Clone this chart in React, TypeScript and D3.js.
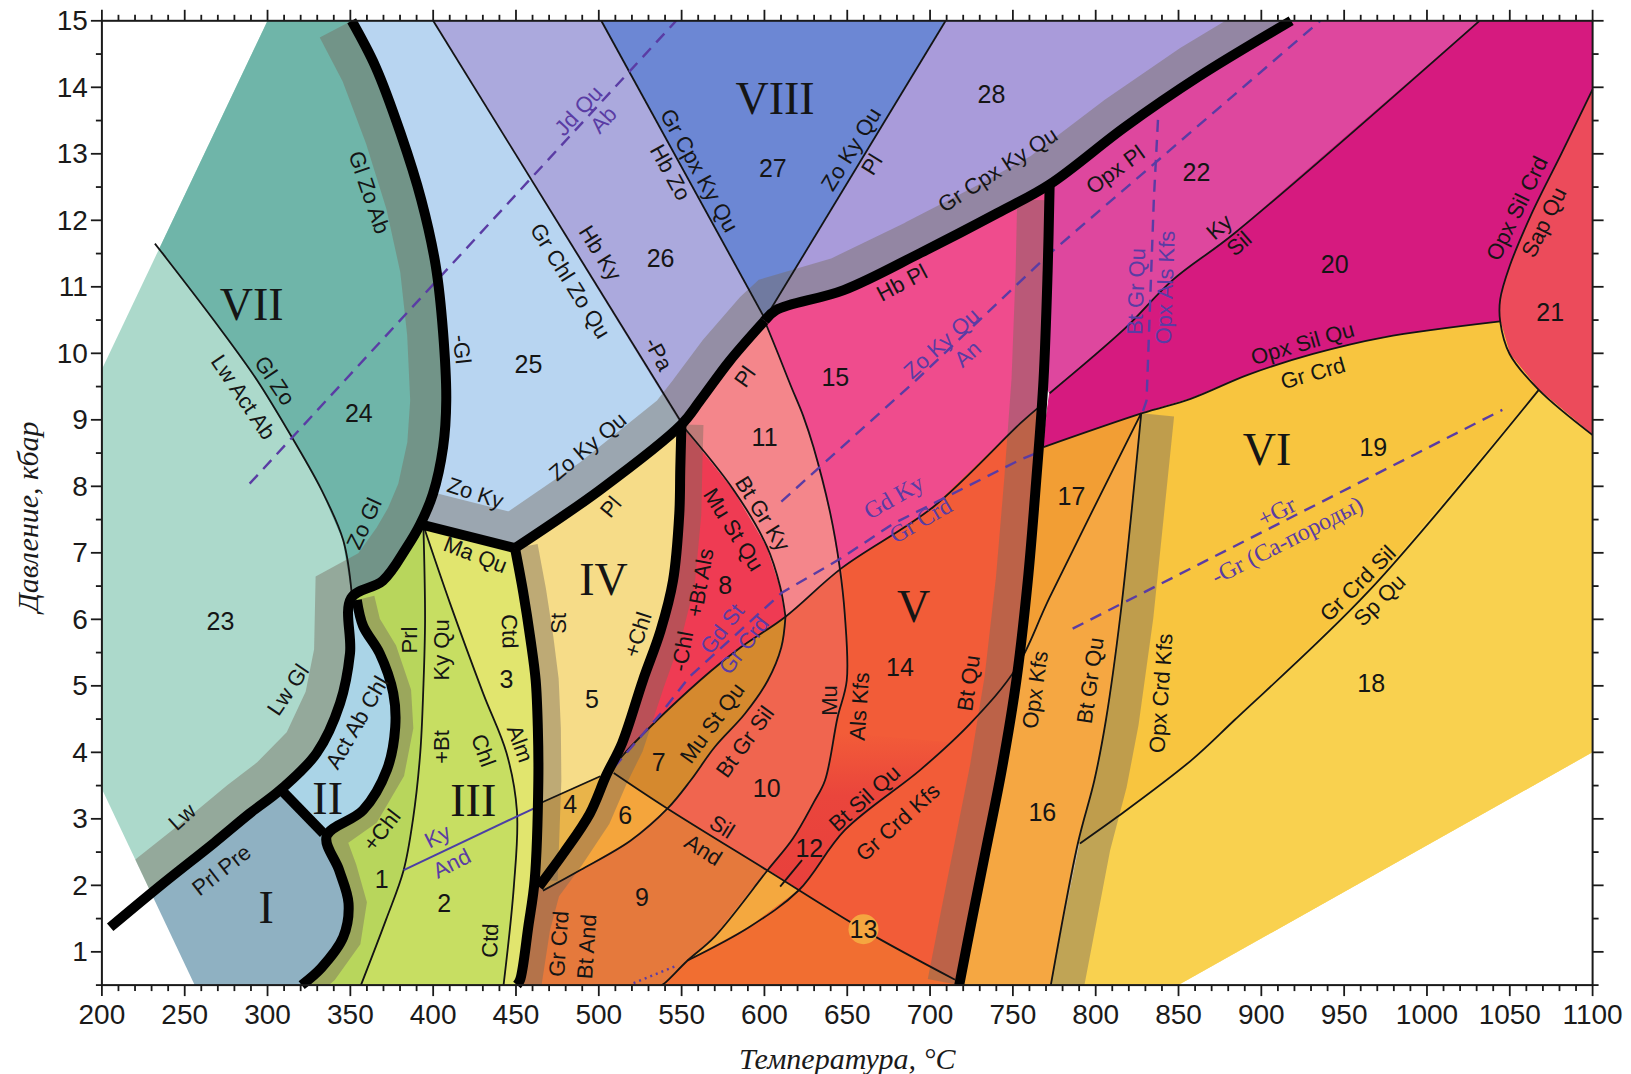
import React from "react";
import * as d3 from "d3";

type Pt = [number, number];

// ---------------- axes ----------------
const T_DOMAIN: Pt = [200, 1100];
const P_DOMAIN: Pt = [0.5, 15];
const X_MAJOR = d3.range(200, 1101, 50);
const X_MINOR = d3.range(200, 1101, 10);
const Y_MAJOR = d3.range(1, 16, 1);
const Y_MINOR = d3.range(0.5, 15.01, 0.5);

// ---------------- outline of the coloured field (T °C, P kbar) ----------------
const ENVELOPE: Pt[] = [[300, 15], [200, 9.76], [200, 3.45], [256, 0.5], [850, 0.5], [1100, 4.0], [1100, 15]];

// ---------------- thick boundaries ----------------
const TH_VII: Pt[] = [[350.8, 15], [365.2, 14.31], [380.3, 13.31], [392.8, 12.31], [401.6, 11.31], [406, 10.31], [407.9, 9.29], [406, 8.59], [399.8, 7.88], [392.2, 7.43]];
const TH_JCT: Pt[] = [[392.2, 7.43], [384, 7.08], [369.6, 6.58], [350.5, 6.32]];
const TH_LOWER: Pt[] = [[350.5, 6.32], [349.8, 5.49], [343.8, 4.74], [329.7, 3.99], [308, 3.44], [289.2, 3.08], [267.8, 2.64], [235.5, 2.0], [205, 1.37]];
const TH_I_II: Pt[] = [[308, 3.44], [333.8, 2.78]];
const TH_II_III: Pt[] = [[353.9, 6.29], [357.7, 5.9], [367.7, 5.49], [375.9, 4.89], [377.1, 4.38], [372.1, 3.74], [357.7, 3.13], [335.7, 2.74]];
const TH_I_III: Pt[] = [[335.7, 2.74], [343.2, 2.23], [348.9, 1.73], [345.7, 1.22], [332.5, 0.76], [320.6, 0.5]];
const TH_MAQU: Pt[] = [[392.2, 7.43], [449.4, 7.07]];
const TH_III_IV: Pt[] = [[449.4, 7.07], [454.4, 6.4], [458.8, 5.69], [461.9, 5.08], [463.2, 4.36], [463.5, 3.58], [461.3, 2.08], [457.5, 1.39], [452.5, 0.58], [450.6, 0.5]];
const TH_IV_TOP: Pt[] = [[449.4, 7.07], [500.9, 7.95], [549.9, 8.93], [561.2, 9.29], [578.8, 9.88], [600.1, 10.49]];
const TH_IV_8: Pt[] = [[549.9, 8.93], [549.2, 8.27], [548.6, 7.59], [544.8, 6.58], [537.3, 5.83], [526.6, 5.08], [514.1, 4.14], [504.6, 3.66], [494.6, 3.08], [478.9, 2.49], [463.8, 1.98]];
const TH_TOP_R: Pt[] = [[600.1, 10.49], [607, 10.65], [647.9, 10.95], [694.3, 11.51], [740.8, 12.11], [772.2, 12.54], [817.5, 13.4], [862.1, 14.16], [918, 15]];
const TH_VERT: Pt[] = [[772.2, 12.54], [771, 11.25], [768.5, 9.6], [764.1, 8.09], [759, 6.58], [752.1, 5.08], [743.3, 3.74], [733.9, 2.56], [725.8, 1.55], [717.6, 0.5]];

// ---------------- thin boundaries ----------------
const L_VII: Pt[] = [[232, 11.65], [236.4, 11.51], [267.8, 10.49], [293.6, 9.6], [315.6, 8.7], [332.5, 7.95], [345.7, 7.19], [350.8, 6.4]];
const L_25_26: Pt[] = [[400, 15], [549.9, 8.96]];
const L_26_27: Pt[] = [[501.5, 15], [600.3, 10.52]];
const L_27_28: Pt[] = [[709.4, 15], [600.3, 10.52]];
const L_MU: Pt[] = [[600.1, 10.49], [608.3, 9.99], [615.8, 9.52], [623.4, 9.06], [629.6, 8.59], [639.7, 7.6], [645.4, 6.79], [648.5, 6.08], [649.7, 5.08], [644.1, 4.52], [636.6, 3.58], [629.6, 3.24], [617.1, 2.7], [602.0, 2.23], [570.0, 1.23], [553.6, 0.87], [539.8, 0.53], [537.9, 0.5]];
const L_BTGRKY: Pt[] = [[549.9, 8.93], [581.3, 7.95], [601.4, 7.1], [609.5, 6.49], [612.7, 6.04]];
const L_GDKY: Pt[] = [[507.8, 3.74], [514.7, 3.96], [540.5, 4.61], [567.5, 5.22], [585.7, 5.58], [612.7, 6.04], [646.6, 6.77], [701.9, 7.69], [754.6, 8.95], [766.6, 9.21]];
const L_MUSTQU: Pt[] = [[612.7, 6.04], [610.2, 5.58], [602.0, 5.08], [588.2, 4.58], [570.0, 4.08], [555.5, 3.58], [541.7, 3.16], [519.1, 2.67], [488.9, 2.23], [466.3, 1.92]];
const L_SILAND: Pt[] = [[509.0, 3.69], [541.1, 3.16], [601.4, 2.23], [659.8, 1.33], [715.1, 0.58]];
const L_KYAND_IV: Pt[] = [[463.2, 3.22], [500.9, 3.64]];
const L_KYAND_III: Pt[] = [[382.2, 2.23], [461.9, 3.17]];
const L_BTSILQU: Pt[] = [[827.5, 9.1], [772.2, 6.33], [752.1, 5.27], [724.5, 4.44], [694.3, 3.74], [648.5, 2.83], [620.9, 1.93], [590.7, 1.37], [553.6, 0.87]];
const L_KYSIL: Pt[] = [[1031.7, 15], [884.0, 11.81], [846.4, 11.1], [817.5, 10.37], [772.2, 9.4]];
const L_OPXSILQU: Pt[] = [[768.5, 8.59], [828.1, 9.1], [857.7, 9.32], [892.2, 9.68], [931.2, 9.99], [973.9, 10.24], [1044.2, 10.48]];
const L_21: Pt[] = [[1100, 13.97], [1081.3, 13.01], [1063.4, 12.11], [1049.9, 11.31], [1044.2, 10.81], [1044.2, 10.48], [1049.9, 9.99], [1067.5, 9.45], [1100, 8.77]];
const L_SPQU: Pt[] = [[1067.5, 9.45], [965.1, 6.43], [884.0, 4.49], [857.7, 3.88], [813.1, 3.03], [790.5, 2.63]];
const L_BTGRQU: Pt[] = [[827.5, 9.1], [815.0, 6.08], [806.2, 4.49], [799.2, 3.58], [789.2, 2.63], [772.9, 0.5]];
const L_CHL: Pt[] = [[394.1, 7.41], [395.1, 5.99], [394.1, 4.99], [392.2, 3.99], [387.8, 2.99], [382.2, 2.23], [371.5, 1.48], [356.4, 0.5]];
const L_ALM: Pt[] = [[394.1, 7.41], [410.2, 6.24], [430.3, 4.88], [444.3, 3.99], [450.6, 3.11], [448.7, 1.98], [442.5, 0.5]];
const L_TICK12: Pt[] = [[622.7, 2.38], [609.5, 1.98]];

// ---------------- dashed reaction lines ----------------
const D_JDQU: Pt[] = [[289.2, 8.04], [546.7, 15]];
const D_ZOKYQU: Pt[] = [[610.2, 7.77], [691.8, 9.6], [772.2, 11.5], [935.6, 15]];
const D_VERT: Pt[] = [[837.6, 13.51], [835.1, 12.31], [830.7, 9.29], [828.1, 9.1]];
const D_GDKY: Pt[] = [[509.0, 3.77], [537.3, 4.58], [554.9, 5.14], [610.5, 6.4], [645.7, 6.91], [677.9, 7.44], [754.4, 8.4], [765.3, 8.51]];
const D_CA: Pt[] = [[786.1, 5.86], [1045.5, 9.15]];
const D_DOT: Pt[] = [[521.0, 0.53], [546.7, 0.79]];

// ---------------- explicit small fields ----------------
const R4: Pt[] = [[463.2, 3.22], [500.9, 3.64], [504.6, 3.66], [494.6, 3.08], [478.9, 2.49], [463.8, 1.98], [461.3, 2.08], [463.5, 3.58]];
const R12: Pt[] = [[643, 4.3], [636.6, 3.58], [629.6, 3.24], [617.1, 2.7], [602.0, 2.23], [620.9, 1.93], [648.5, 2.83], [694.3, 3.74], [712, 4.15]];
const R9: Pt[] = [[463.8, 1.98], [466.3, 1.92], [488.9, 2.23], [519.1, 2.67], [541.7, 3.16], [601.4, 2.23], [570.0, 1.23], [553.6, 0.87], [539.8, 0.53], [537.9, 0.5], [450.6, 0.5], [452.5, 0.58], [457.5, 1.39], [461.3, 2.08]];
const RSLIVER: Pt[] = [[602.0, 2.23], [620.9, 1.93], [590.7, 1.37], [553.6, 0.87], [570.0, 1.23]];
const R13: Pt[] = [[620.9, 1.93], [659.8, 1.33], [715.1, 0.58], [717.6, 0.5], [537.9, 0.5], [539.8, 0.53], [553.6, 0.87], [590.7, 1.37]];
const R17: Pt[] = [[768.5, 8.59], [828.1, 9.1], [772.2, 6.33], [752.1, 5.27], [759, 6.58], [764.1, 8.09]];

// ---------------- labels ----------------
const ROMAN: [string, number, number][] = [["VII", 290.4, 10.73], ["VIII", 606.4, 13.83], ["I", 299.2, 1.67], ["II", 336.3, 3.31], ["III", 424.2, 3.27], ["IV", 502.8, 6.6], ["V", 690.0, 6.19], ["VI", 903.5, 8.56]];
const FIELD_NUMS: [string, number, number][] = [
  ["23", 271.6, 5.97], ["24", 355.1, 9.1], ["25", 457.5, 9.84], ["26", 537.3, 11.43], ["27", 605.1, 12.78], ["28", 737.1, 13.9],
  ["22", 860.8, 12.73], ["20", 944.3, 11.34], ["21", 1074.4, 10.62], ["19", 967.6, 8.59], ["18", 966.3, 5.05], ["17", 785.4, 7.85],
  ["16", 767.8, 3.11], ["15", 642.8, 9.65], ["11", 600.1, 8.74], ["8", 576.3, 6.52], ["14", 681.8, 5.29], ["10", 601.4, 3.47],
  ["12", 627.1, 2.56], ["13", 659.8, 1.34], ["9", 526.0, 1.83], ["7", 536.1, 3.85], ["6", 516.0, 3.06], ["4", 482.7, 3.22],
  ["5", 495.9, 4.8], ["3", 444.3, 5.11], ["1", 369.0, 2.09], ["2", 406.7, 1.73],
];
const CIRCLED: [number, number][] = [[659.8, 1.34]];
// text, T, P, rotation, kind (k = black sans, p = purple sans, s = purple serif)
const LINE_LABELS: [string, number, number, number, string][] = [
  ["Gl Zo Ab", 361.4, 12.42, 71, "k"], ["Gl Zo", 304.3, 9.59, 56, "k"], ["Lw Act Ab", 285.4, 9.34, 56, "k"],
  ["Zo Gl", 358.3, 7.44, -65, "k"], ["-Gl", 417.3, 10.06, 84, "k"], ["Zo Ky", 425.5, 7.9, 18, "k"],
  ["Zo Ky Qu", 493.3, 8.6, -40, "k"], ["Pl", 507.2, 7.69, -50, "k"], ["-Pa", 536.1, 9.99, 62, "k"],
  ["Pl", 588.2, 9.65, -55, "k"], ["Gr Chl Zo Qu", 482.7, 11.09, 58, "k"], ["Hb Ky", 500.9, 11.51, 58, "k"],
  ["Gr Cpx Ky Qu", 560.6, 12.75, 61, "k"], ["Hb Zo", 543.2, 12.72, 61, "k"], ["Jd Qu", 487.7, 13.65, -47, "p"],
  ["Ab", 502.8, 13.51, -47, "p"], ["Zo Ky Qu", 652.3, 13.07, -58, "k"], ["Pl", 664.8, 12.84, -58, "k"],
  ["Gr Cpx Ky Qu", 740.8, 12.76, -33, "k"], ["Hb Pl", 683.0, 11.06, -28, "k"], ["Zo Ky Qu", 706.9, 10.15, -42, "p"],
  ["An", 722.6, 9.99, -42, "p"], ["Opx Pl", 811.8, 12.76, -36, "k"], ["Ky", 874.6, 11.9, -41, "k"],
  ["Sil", 886.6, 11.65, -41, "k"], ["Bt Gr Qu", 824.4, 10.93, -88, "p"], ["Opx Als Kfs", 842.0, 10.99, -88, "p"],
  ["Opx Sil Qu", 924.9, 10.15, -16, "k"], ["Gr Crd", 931.2, 9.7, -16, "k"], ["Opx Sil Crd", 1054.3, 12.18, -64, "k"],
  ["Sap Qu", 1070.6, 11.97, -64, "k"], ["+Gr", 909.2, 7.62, -27, "s"], ["-Gr (Ca-породы)", 915.5, 7.19, -27, "s"],
  ["Gr Crd Sil", 958.2, 6.54, -45, "k"], ["Sp Qu", 971.4, 6.29, -45, "k"], ["Opx Crd Kfs", 839.4, 4.89, -86, "k"],
  ["Bt Gr Qu", 796.7, 5.08, -82, "k"], ["Opx Kfs", 763.4, 4.94, -82, "k"], ["Bt Qu", 723.2, 5.04, -82, "k"],
  ["Mu", 639.1, 4.78, -90, "k"], ["Als Kfs", 657.3, 4.69, -86, "k"], ["Bt Sil Qu", 660.4, 3.31, -42, "k"],
  ["Gr Crd Kfs", 680.5, 2.95, -42, "k"], ["Sil", 574.4, 2.88, 32, "k"], ["And", 563.1, 2.53, 32, "k"],
  ["Mu St Qu", 568.5, 4.44, -54, "k"], ["Bt Gr Sil", 588.2, 4.16, -54, "k"], ["Gr Crd", 475.8, 1.12, -86, "k"],
  ["Bt And", 492.7, 1.08, -86, "k"], ["-Chl", 550.5, 5.52, -80, "k"], ["+Bt Als", 561.2, 6.55, -80, "k"],
  ["Gd St", 574.4, 5.86, -52, "p"], ["Gr Crd", 587.6, 5.61, -52, "p"], ["Mu St Qu", 581.3, 7.35, 58, "k"],
  ["Bt Gr Ky", 598.9, 7.59, 58, "k"], ["Gd Ky", 678.0, 7.84, -30, "s"], ["Gr Crd", 694.3, 7.49, -30, "s"],
  ["St", 475.8, 5.94, -90, "k"], ["+Chl", 523.5, 5.77, -72, "k"], ["Ma Qu", 425.5, 6.97, 21, "k"],
  ["Ctd", 446.2, 5.82, 88, "k"], ["Prl", 385.9, 5.69, -90, "k"], ["Ky Qu", 405.1, 5.54, -90, "k"],
  ["+Bt", 405.1, 4.08, -90, "k"], ["Chl", 430.3, 4.03, 70, "k"], ["Alm", 452.5, 4.13, 70, "k"],
  ["Ctd", 434.3, 1.17, -88, "k"], ["+Chl", 369.0, 2.83, -52, "k"], ["Ky", 402.6, 2.74, -27, "p"],
  ["And", 411.2, 2.33, -27, "p"], ["Act Ab Chl", 354.0, 4.45, -60, "k"], ["Lw Gl", 312.4, 4.94, -56, "k"],
  ["Lw", 248.4, 3.03, -42, "k"], ["Prl Pre", 272.2, 2.23, -38, "k"],
];

const rev = (a: Pt[]): Pt[] => a.slice().reverse();

// fields built from the boundary arrays (painted in this order)
const FIELDS: [string, Pt[]][] = [
  ["f23", [[200, 15], ...TH_VII, ...TH_JCT, ...TH_LOWER, [200, 1.37]]],
  ["f24", [[200, 15], ...TH_VII, ...TH_JCT, ...rev(L_VII), [200, 11.65]]],
  ["fI", [...TH_LOWER.slice(4), [200, 1.37], [200, 0.5], ...rev(TH_I_III), [333.8, 2.78]]],
  ["fII", [...TH_LOWER.slice(0, 5), [333.8, 2.78], ...rev(TH_II_III)]],
  ["f3", [[392.2, 7.43], ...TH_III_IV, ...rev(TH_I_III), ...rev(TH_II_III), ...rev(TH_JCT)]],
  ["f2", [[392.2, 7.43], ...L_ALM, ...rev(TH_I_III), ...rev(TH_II_III), ...rev(TH_JCT)]],
  ["f1", [[392.2, 7.43], ...L_CHL, ...rev(TH_I_III), ...rev(TH_II_III), ...rev(TH_JCT)]],
  ["f25", [...L_25_26, [500.9, 7.95], [449.4, 7.07], ...rev(TH_VII)]],
  ["f26", [[400, 15], [501.5, 15], [600.3, 10.52], [578.8, 9.88], [561.2, 9.29], [549.9, 8.93]]],
  ["f27", [[501.5, 15], [709.4, 15], [600.3, 10.52]]],
  ["f28", [[709.4, 15], [918, 15], ...rev(TH_TOP_R)]],
  ["fIV", [...TH_IV_TOP.slice(0, 3), ...TH_IV_8.slice(1), ...rev(TH_III_IV.slice(0, 7))]],
  ["f4", R4],
  ["f8", [...L_BTGRKY, ...rev(L_GDKY.slice(0, 6)), ...rev(TH_IV_8.slice(0, 8))]],
  ["f11", [...TH_IV_TOP.slice(2), ...L_MU.slice(1, 7), [646.6, 6.77], ...rev(L_BTGRKY)]],
  ["f15", [...TH_TOP_R, ...TH_VERT.slice(1, 3), ...rev(L_GDKY.slice(6)), ...rev(L_MU.slice(0, 7))]],
  ["fV", [...L_GDKY.slice(6), ...TH_VERT.slice(2), ...rev(L_SILAND.slice(2)), ...rev(L_MU.slice(7, 13))]],
  ["f10", [[612.7, 6.04], [646.6, 6.77], ...L_MU.slice(7, 14), [541.1, 3.16], ...rev(L_MUSTQU.slice(0, 7))]],
  ["f7", [...L_MUSTQU.slice(0, 7), [509.0, 3.69], ...L_GDKY.slice(0, 6)]],
  ["f6", [[509.0, 3.69], [541.1, 3.16], ...L_MUSTQU.slice(7), [463.8, 1.98], [478.9, 2.49], [494.6, 3.08], [504.6, 3.66]]],
  ["f12", R12],
  ["f9", R9],
  ["fsl", RSLIVER],
  ["f13", R13],
  ["f22", [[918, 15], ...L_KYSIL, [768.5, 9.6], [771, 11.25], [772.2, 12.54], [817.5, 13.4], [862.1, 14.16]]],
  ["f20", [[1031.7, 15], [1100, 15], ...L_21.slice(0, 6), ...rev(L_OPXSILQU), [770, 9.0], ...rev(L_KYSIL.slice(1))]],
  ["f21", L_21],
  ["f19", [...L_OPXSILQU.slice(1), ...L_21.slice(6, 8), ...L_SPQU.slice(1), ...rev(L_BTGRQU.slice(0, 5))]],
  ["f18", [[1067.5, 9.45], [1100, 8.77], [1100, 4.0], [850, 0.5], [772.9, 0.5], ...rev(L_SPQU)]],
  ["f17", R17],
  ["f16", [[827.5, 9.1], ...L_BTGRQU.slice(1), ...rev(TH_VERT.slice(5)), [752.1, 5.27], [772.2, 6.33]]],
];

const BANDS: [string, Pt[]][] = [
  ["bVII", [...TH_VII, ...TH_JCT, ...TH_LOWER]],
  ["bTop", [...TH_MAQU, ...TH_IV_TOP, ...TH_TOP_R]],
  ["bSt", TH_III_IV.slice(0, 7)],
  ["b8", [...TH_IV_8, ...TH_III_IV.slice(7)]],
  ["bBtQu", [[771.9, 12.3], ...TH_VERT.slice(1)]],
  ["bOpx", L_BTGRQU],
  ["bII", [...TH_II_III, ...TH_I_III]],
];

// ---------------- styles ----------------
const FIELD_COLOR: Record<string, string> = {
  f23: "#acd9cb", f24: "#6fb5a9", fI: "#8fb1c2", fII: "#aad4e7", f3: "#e1e56e", f2: "#c7de62", f1: "#b8d65c",
  f25: "#b8d5f1", f26: "#aba9dd", f27: "#6c87d4", f28: "#a99bda", fIV: "#f6dc88", f4: "#e9b44a", f8: "#ef3b53",
  f11: "#f4868b", f15: "#ef4c8d", fV: "#f25c38", f10: "#f0654f", f7: "#d5892e", f6: "#f4a53c", f12: "url(#g12)",
  f9: "#e5793c", fsl: "#f4a83f", f13: "#f16e31", f22: "#de479e", f20: "#d61a7f", f21: "#ec4b5b", f19: "#f8c53f",
  f18: "#f9d14f", f17: "#f29e34", f16: "#f5a742",
};
const BAND_STYLE: Record<string, [number, number]> = {
  // [signed offset, width] in px
  bVII: [18, 36], bTop: [-17, 34], bSt: [-11.5, 23], b8: [-11, 22], bBtQu: [16, 32], bOpx: [-16.5, 33], bII: [-9, 18],
};
const BAND_FILL = "rgba(118,106,94,0.44)";
const PURPLE = "#5a3ca4";
const SANS = "'Liberation Sans', Arial, Helvetica, sans-serif";
const SERIF = "'Liberation Serif', 'Times New Roman', serif";

function dedupe(p: Pt[]): Pt[] {
  return p.filter((q, i) => i === 0 || Math.abs(q[0] - p[i - 1][0]) > 0.05 || Math.abs(q[1] - p[i - 1][1]) > 0.05);
}

function offsetPx(P: Pt[], d: number): Pt[] {
  const n = P.length;
  const segN: Pt[] = [];
  for (let i = 0; i < n - 1; i++) {
    const dx = P[i + 1][0] - P[i][0], dy = P[i + 1][1] - P[i][1];
    const L = Math.hypot(dx, dy) || 1;
    segN.push([-dy / L, dx / L]);
  }
  return P.map((p, i) => {
    const a = segN[Math.max(0, i - 1)], b = segN[Math.min(n - 2, i)];
    let mx = a[0] + b[0], my = a[1] + b[1];
    const ml = Math.hypot(mx, my) || 1;
    mx /= ml; my /= ml;
    const c = mx * b[0] + my * b[1];
    const k = d / Math.max(c, 0.5);
    return [p[0] + mx * k, p[1] + my * k] as Pt;
  });
}

export default function App() {
  const x = d3.scaleLinear().domain(T_DOMAIN).range([101.9, 1592.6]);
  const y = d3.scaleLinear().domain(P_DOMAIN).range([985.1, 20.8]);
  const toPx = (pts: Pt[]): Pt[] => dedupe(pts).map((p) => [x(p[0]), y(p[1])] as Pt);
  const gen = d3.line<Pt>();
  const smooth = d3.line<Pt>().curve(d3.curveCatmullRom.alpha(0.5));
  const path = (pts: Pt[]) => gen(toPx(pts)) || "";
  const spath = (pts: Pt[]) => smooth(toPx(pts)) || "";
  const closed = (pts: Pt[]) => path(pts) + "Z";

  const x0 = x(200), x1 = x(1100), yB = y(0.5), yT = y(15);

  const thick = [
    [...TH_VII, ...TH_JCT, ...TH_LOWER], TH_I_II, [...TH_II_III, ...TH_I_III], TH_MAQU, TH_III_IV,
    TH_IV_TOP, TH_IV_8, TH_TOP_R, TH_VERT,
  ];
  const thinSmooth = [L_VII, L_25_26, L_26_27, L_27_28, L_MU, L_BTGRKY, L_GDKY, L_MUSTQU, L_SILAND, L_KYAND_IV,
    L_BTSILQU, L_KYSIL, L_OPXSILQU, L_21, L_BTGRQU, L_CHL, L_ALM, L_TICK12, L_SPQU];
  const dashed = [D_JDQU, D_ZOKYQU, D_VERT, D_GDKY, D_CA];

  return (
    <svg width={1631} height={1074} viewBox="0 0 1631 1074" style={{ position: "absolute", left: 0, top: 0, background: "#fff" }}>
      <defs>
        <clipPath id="env">
          <path d={closed(ENVELOPE)} />
        </clipPath>
        <linearGradient id="g12" x1="0" y1="0" x2="0" y2="1">
          <stop offset="0" stopColor="#f25c38" />
          <stop offset="0.4" stopColor="#ea453c" />
          <stop offset="1" stopColor="#e8403c" />
        </linearGradient>
      </defs>
      <rect x={0} y={0} width={1631} height={1074} fill="#ffffff" />
      <g clipPath="url(#env)">
        {FIELDS.map(([id, pts]) => (
          <path key={id} d={closed(pts)} fill={FIELD_COLOR[id]} stroke={id === "f12" ? "none" : FIELD_COLOR[id]} strokeWidth={1} strokeLinejoin="round" />
        ))}
        {BANDS.map(([id, pts]) => {
          const [off, w] = BAND_STYLE[id];
          const p = offsetPx(toPx(pts), off);
          return <path key={id} d={gen(p) || ""} fill="none" stroke={BAND_FILL} strokeWidth={w} strokeLinejoin="miter" strokeMiterlimit={3} strokeLinecap="butt" />;
        })}
      </g>
      {thinSmooth.map((pts, i) => (
        <path key={"t" + i} d={spath(pts)} fill="none" stroke="#141414" strokeWidth={1.8} strokeLinejoin="round" />
      ))}
      <path d={path(L_KYAND_III)} fill="none" stroke="#4b3fa6" strokeWidth={2} />
      {dashed.map((pts, i) => (
        <path key={"d" + i} d={path(pts)} fill="none" stroke={PURPLE} strokeWidth={2.4} strokeDasharray="12 8" />
      ))}
      <path d={path(D_DOT)} fill="none" stroke={PURPLE} strokeWidth={2.4} strokeDasharray="2 4" />
      {thick.map((pts, i) => (
        <path key={"k" + i} d={spath(pts)} fill="none" stroke="#000" strokeWidth={10} strokeLinejoin="round" strokeLinecap="butt" />
      ))}
      {CIRCLED.map(([t, p], i) => (
        <circle key={"c" + i} cx={x(t)} cy={y(p)} r={15} fill="#f5a640" />
      ))}
      {ROMAN.map(([s, t, p], i) => (
        <text key={"r" + i} x={x(t)} y={y(p)} textAnchor="middle" dominantBaseline="central" fontFamily={SERIF} fontSize={46} fill="#151515">{s}</text>
      ))}
      {FIELD_NUMS.map(([s, t, p], i) => (
        <text key={"n" + i} x={x(t)} y={y(p)} textAnchor="middle" dominantBaseline="central" fontFamily={SANS} fontSize={25} fill="#151515">{s}</text>
      ))}
      {LINE_LABELS.map(([s, t, p, r, k], i) => (
        <text key={"l" + i} transform={`translate(${x(t)},${y(p)}) rotate(${r})`} textAnchor="middle" dominantBaseline="central"
          fontFamily={k === "s" ? SERIF : SANS} fontSize={k === "s" ? 24 : 22} fill={k === "k" ? "#151515" : PURPLE}>{s}</text>
      ))}
      {/* frame and ticks */}
      <rect x={x0} y={yT} width={x1 - x0} height={yB - yT} fill="none" stroke="#1a1a1a" strokeWidth={2} />
      {X_MINOR.map((v) => {
        const len = v % 50 === 0 ? 11 : 6;
        return (
          <g key={"xt" + v}>
            <line x1={x(v)} x2={x(v)} y1={yB} y2={yB + len} stroke="#1a1a1a" strokeWidth={1.8} />
            <line x1={x(v)} x2={x(v)} y1={yT} y2={yT - len} stroke="#1a1a1a" strokeWidth={1.8} />
          </g>
        );
      })}
      {Y_MINOR.map((v) => {
        const len = Math.abs(v - Math.round(v)) < 1e-6 ? 11 : 6;
        return (
          <g key={"yt" + v}>
            <line x1={x0} x2={x0 - len} y1={y(v)} y2={y(v)} stroke="#1a1a1a" strokeWidth={1.8} />
            <line x1={x1} x2={x1 + len} y1={y(v)} y2={y(v)} stroke="#1a1a1a" strokeWidth={1.8} />
          </g>
        );
      })}
      {X_MAJOR.map((v) => (
        <text key={"xl" + v} x={x(v)} y={yB + 29} textAnchor="middle" dominantBaseline="central" fontFamily={SANS} fontSize={28} fill="#1a1a1a">{v}</text>
      ))}
      {Y_MAJOR.map((v) => (
        <text key={"yl" + v} x={x0 - 14} y={y(v)} textAnchor="end" dominantBaseline="central" fontFamily={SANS} fontSize={28} fill="#1a1a1a">{v}</text>
      ))}
      <text x={(x0 + x1) / 2} y={1058} textAnchor="middle" dominantBaseline="central" fontFamily={SERIF} fontStyle="italic" fontSize={30} fill="#1a1a1a">Температура, °C</text>
      <text transform={`translate(27,${(yT + yB) / 2 + 14}) rotate(-90)`} textAnchor="middle" dominantBaseline="central" fontFamily={SERIF} fontStyle="italic" fontSize={30} fill="#1a1a1a">Давление, кбар</text>
    </svg>
  );
}
